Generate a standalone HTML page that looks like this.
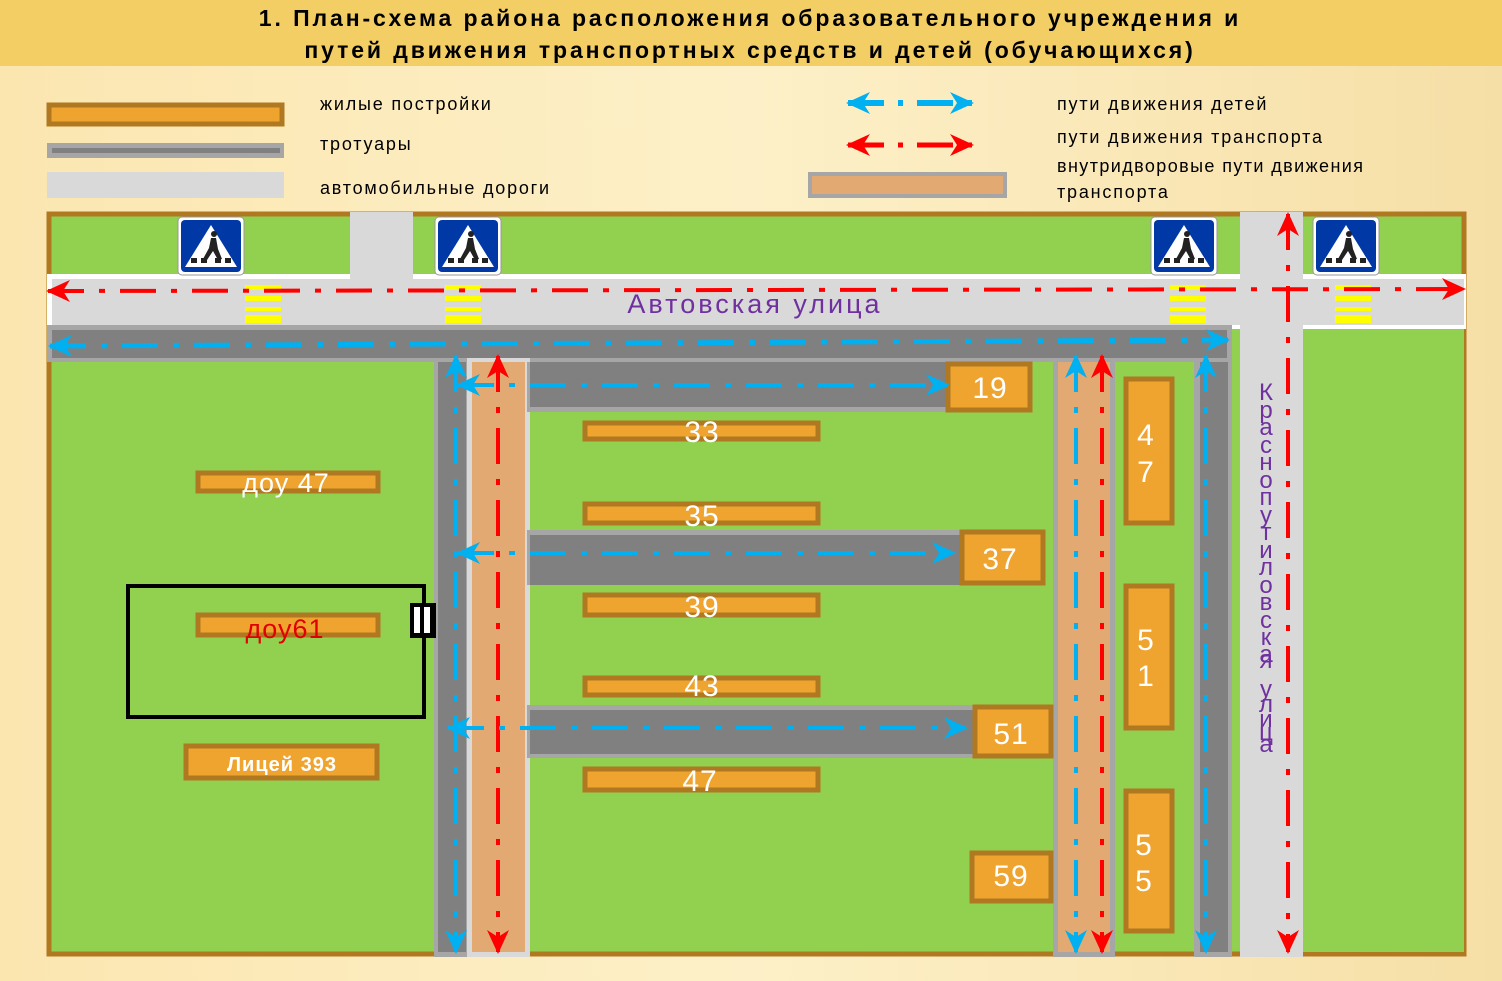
<!DOCTYPE html>
<html><head><meta charset="utf-8"><style>
html,body{margin:0;padding:0;background:#fcedc2;}
svg{display:block;font-family:"Liberation Sans",sans-serif;}
</style></head><body>
<svg width="1502" height="981" viewBox="0 0 1502 981" xmlns="http://www.w3.org/2000/svg">
<defs>
<linearGradient id="bg" x1="0" y1="0" x2="1" y2="0">
<stop offset="0" stop-color="#fbe6b0"/><stop offset="0.5" stop-color="#fdf0c8"/><stop offset="1" stop-color="#f6dfa6"/>
</linearGradient>
<marker id="ra" viewBox="0 0 24 22" markerWidth="24" markerHeight="22" refX="22" refY="11" orient="auto-start-reverse" markerUnits="userSpaceOnUse"><path d="M0,0 L24,11 L0,22 L7,11 Z" fill="#ff0000"/></marker>
<marker id="ba" viewBox="0 0 24 22" markerWidth="24" markerHeight="22" refX="22" refY="11" orient="auto-start-reverse" markerUnits="userSpaceOnUse"><path d="M0,0 L24,11 L0,22 L7,11 Z" fill="#00b0f0"/></marker>
<g id="sign">
<rect x="0" y="0" width="66" height="58" rx="4" fill="#fff" stroke="#999" stroke-width="1"/>
<rect x="3" y="3" width="60" height="52" rx="4" fill="#0039a6"/>
<path d="M33,8 L59,50 L7,50 Z" fill="#fff"/>
<circle cx="36" cy="17" r="3" fill="#222"/>
<path d="M33,21 L38,21 L40,32 L44,42 L40,43 L35,34 L29,43 L25,42 L31,31 Z" fill="#222"/>
<rect x="13" y="41" width="6" height="5" fill="#222"/><rect x="23" y="41" width="6" height="5" fill="#222"/><rect x="37" y="41" width="6" height="5" fill="#222"/><rect x="47" y="41" width="6" height="5" fill="#222"/>
</g>
<g id="zebra"><rect x="0" y="0" width="36" height="5" fill="#ffff00"/><rect x="0" y="11" width="36" height="5" fill="#ffff00"/><rect x="0" y="22" width="36" height="4" fill="#ffff00"/><rect x="0" y="30" width="36" height="8" fill="#ffff00"/></g>
</defs>
<rect width="1502" height="981" fill="url(#bg)"/>
<rect width="1502" height="66" fill="#f2ce64"/>
<text x="750" y="26" text-anchor="middle" font-size="23" font-weight="bold" letter-spacing="2.9" fill="#000">1. План-схема района расположения образовательного учреждения и</text>
<text x="750" y="58" text-anchor="middle" font-size="23" font-weight="bold" letter-spacing="2.9" fill="#000">путей движения транспортных средств и детей (обучающихся)</text>

<rect x="49" y="105" width="233" height="19" fill="#f0a430" stroke="#b07820" stroke-width="5"/>
<rect x="47" y="143" width="237" height="15" fill="#a6a6a6"/><rect x="52" y="148" width="228" height="5" fill="#808080"/>
<rect x="47" y="172" width="237" height="26" fill="#d9d9d9"/>
<g font-size="18" fill="#000" letter-spacing="1.8">
<text x="320" y="110">жилые постройки</text>
<text x="320" y="150">тротуары</text>
<text x="320" y="194">автомобильные дороги</text>
<text x="1057" y="110">пути движения детей</text>
<text x="1057" y="143">пути движения транспорта</text>
<text x="1057" y="172" letter-spacing="1.4">внутридворовые пути движения</text>
<text x="1057" y="198">транспорта</text>
</g>
<line x1="848" y1="103" x2="972" y2="103" stroke="#00b0f0" stroke-width="6" stroke-dasharray="36 14 5 14" marker-start="url(#ba)" marker-end="url(#ba)"/>
<line x1="848" y1="145" x2="972" y2="145" stroke="#ff0000" stroke-width="5" stroke-dasharray="36 14 5 14" marker-start="url(#ra)" marker-end="url(#ra)"/>
<rect x="810" y="174" width="195" height="22" fill="#e2aa72" stroke="#a6a6a6" stroke-width="4"/>

<rect x="49" y="214" width="1415" height="740" fill="#92d050" stroke="#b07820" stroke-width="5"/>
<rect x="47" y="274" width="1419" height="55" fill="#fff"/>
<rect x="52" y="279" width="1412" height="46" fill="#d9d9d9"/>
<rect x="350" y="212" width="63" height="67" fill="#d9d9d9"/>
<rect x="1240" y="212" width="63" height="745" fill="#d9d9d9"/>
<rect x="1303" y="329" width="161" height="623" fill="#92d050"/>
<rect x="47" y="325" width="1185" height="37" fill="#a6a6a6"/>
<rect x="52" y="330" width="1175" height="28" fill="#808080"/>
<rect x="434" y="362" width="36" height="595" fill="#a6a6a6"/><rect x="438" y="362" width="28" height="590" fill="#808080"/>
<rect x="467" y="358" width="63" height="599" fill="#d9d9d9"/><rect x="472" y="362" width="53" height="590" fill="#e2aa72"/>
<rect x="527" y="362" width="421" height="50" fill="#a6a6a6"/><rect x="530" y="362" width="418" height="45" fill="#808080"/>
<rect x="527" y="530" width="433" height="55" fill="#a6a6a6"/><rect x="530" y="535" width="430" height="50" fill="#808080"/>
<rect x="527" y="705" width="446" height="53" fill="#a6a6a6"/><rect x="530" y="710" width="443" height="44" fill="#808080"/>
<rect x="1053" y="358" width="62" height="599" fill="#a6a6a6"/><rect x="1058" y="362" width="52" height="590" fill="#e2aa72"/>
<rect x="1194" y="358" width="38" height="599" fill="#a6a6a6"/><rect x="1200" y="362" width="28" height="590" fill="#808080"/>

<g fill="#f0a430" stroke="#b07820" stroke-width="5">
<rect x="948" y="364" width="82" height="46"/>
<rect x="585" y="423" width="233" height="16"/>
<rect x="585" y="504" width="233" height="19"/>
<rect x="962" y="532" width="81" height="51"/>
<rect x="585" y="595" width="233" height="20"/>
<rect x="585" y="678" width="233" height="17"/>
<rect x="975" y="707" width="76" height="49"/>
<rect x="585" y="769" width="233" height="21"/>
<rect x="972" y="853" width="79" height="48"/>
<rect x="1126" y="379" width="46" height="144"/>
<rect x="1126" y="586" width="46" height="142"/>
<rect x="1126" y="791" width="46" height="140"/>
<rect x="198" y="473" width="180" height="18"/>
<rect x="198" y="615" width="180" height="20"/>
<rect x="186" y="746" width="191" height="32"/>
</g>
<g fill="#fff" font-size="30" letter-spacing="1">
<text x="990" y="398" text-anchor="middle">19</text>
<text x="702" y="442" text-anchor="middle">33</text>
<text x="702" y="526" text-anchor="middle">35</text>
<text x="1000" y="569" text-anchor="middle">37</text>
<text x="702" y="617" text-anchor="middle">39</text>
<text x="702" y="696" text-anchor="middle">43</text>
<text x="1011" y="744" text-anchor="middle">51</text>
<text x="700" y="791" text-anchor="middle">47</text>
<text x="1011" y="886" text-anchor="middle">59</text>
<text x="1146" y="445" text-anchor="middle">4</text><text x="1146" y="482" text-anchor="middle">7</text>
<text x="1146" y="650" text-anchor="middle">5</text><text x="1146" y="686" text-anchor="middle">1</text>
<text x="1144" y="855" text-anchor="middle">5</text><text x="1144" y="891" text-anchor="middle">5</text>
<text x="286" y="492" text-anchor="middle" font-size="27">доу 47</text>
<text x="282" y="771" text-anchor="middle" font-size="20" font-weight="bold">Лицей 393</text>
</g>
<text x="285" y="638" text-anchor="middle" font-size="27" fill="#e00000" letter-spacing="1">доу61</text>
<rect x="128" y="586" width="296" height="131" fill="none" stroke="#000" stroke-width="4"/>
<rect x="410" y="603" width="26" height="35" fill="#000"/><rect x="414" y="607" width="6" height="26" fill="#fff"/><rect x="424" y="607" width="6" height="26" fill="#fff"/>

<use href="#sign" x="178" y="217"/><use href="#sign" x="435" y="217"/><use href="#sign" x="1151" y="217"/><use href="#sign" x="1313" y="217"/>
<use href="#zebra" x="245" y="285"/><use href="#zebra" x="445" y="285"/><use href="#zebra" x="1170" y="285"/><use href="#zebra" x="1335" y="285"/>

<text x="755" y="313" text-anchor="middle" font-size="27" fill="#7030a0" letter-spacing="3">Автовская улица</text>
<g font-size="24" fill="#7030a0" text-anchor="middle">
<text x="1266" y="400">К</text><text x="1266" y="418">р</text><text x="1266" y="435">а</text><text x="1266" y="453">с</text><text x="1266" y="470">н</text><text x="1266" y="488">о</text><text x="1266" y="505">п</text><text x="1266" y="523">у</text><text x="1266" y="540">т</text><text x="1266" y="558">и</text><text x="1266" y="575">л</text><text x="1266" y="593">о</text><text x="1266" y="610">в</text><text x="1266" y="628">с</text><text x="1266" y="645">к</text><text x="1266" y="662">а</text><text x="1266" y="668">я</text><text x="1266" y="697">у</text><text x="1266" y="712">л</text><text x="1266" y="727">и</text><text x="1266" y="740">ц</text><text x="1266" y="752">а</text>
</g>

<g fill="none" stroke-dasharray="36 15 6 15">
<line x1="48" y1="291" x2="1464" y2="289" stroke="#ff0000" stroke-width="4" marker-start="url(#ra)" marker-end="url(#ra)"/>
<line x1="50" y1="346" x2="1228" y2="340" stroke="#00b0f0" stroke-width="5" marker-start="url(#ba)" marker-end="url(#ba)"/>
<line x1="1288" y1="214" x2="1288" y2="952" stroke="#ff0000" stroke-width="4" marker-start="url(#ra)" marker-end="url(#ra)"/>
<line x1="498" y1="356" x2="498" y2="952" stroke="#ff0000" stroke-width="4" marker-start="url(#ra)" marker-end="url(#ra)"/>
<line x1="1102" y1="356" x2="1102" y2="952" stroke="#ff0000" stroke-width="4" marker-start="url(#ra)" marker-end="url(#ra)"/>
<line x1="456" y1="356" x2="456" y2="952" stroke="#00b0f0" stroke-width="4" marker-start="url(#ba)" marker-end="url(#ba)"/>
<line x1="1076" y1="356" x2="1076" y2="952" stroke="#00b0f0" stroke-width="4" marker-start="url(#ba)" marker-end="url(#ba)"/>
<line x1="1206" y1="356" x2="1206" y2="952" stroke="#00b0f0" stroke-width="4" marker-start="url(#ba)" marker-end="url(#ba)"/>
<line x1="458" y1="385" x2="948" y2="385" stroke="#00b0f0" stroke-width="4" marker-start="url(#ba)" marker-end="url(#ba)"/>
<line x1="458" y1="553" x2="954" y2="553" stroke="#00b0f0" stroke-width="4" marker-start="url(#ba)" marker-end="url(#ba)"/>
<line x1="448" y1="728" x2="966" y2="728" stroke="#00b0f0" stroke-width="4" marker-start="url(#ba)" marker-end="url(#ba)"/>
</g>
</svg>
</body></html>
